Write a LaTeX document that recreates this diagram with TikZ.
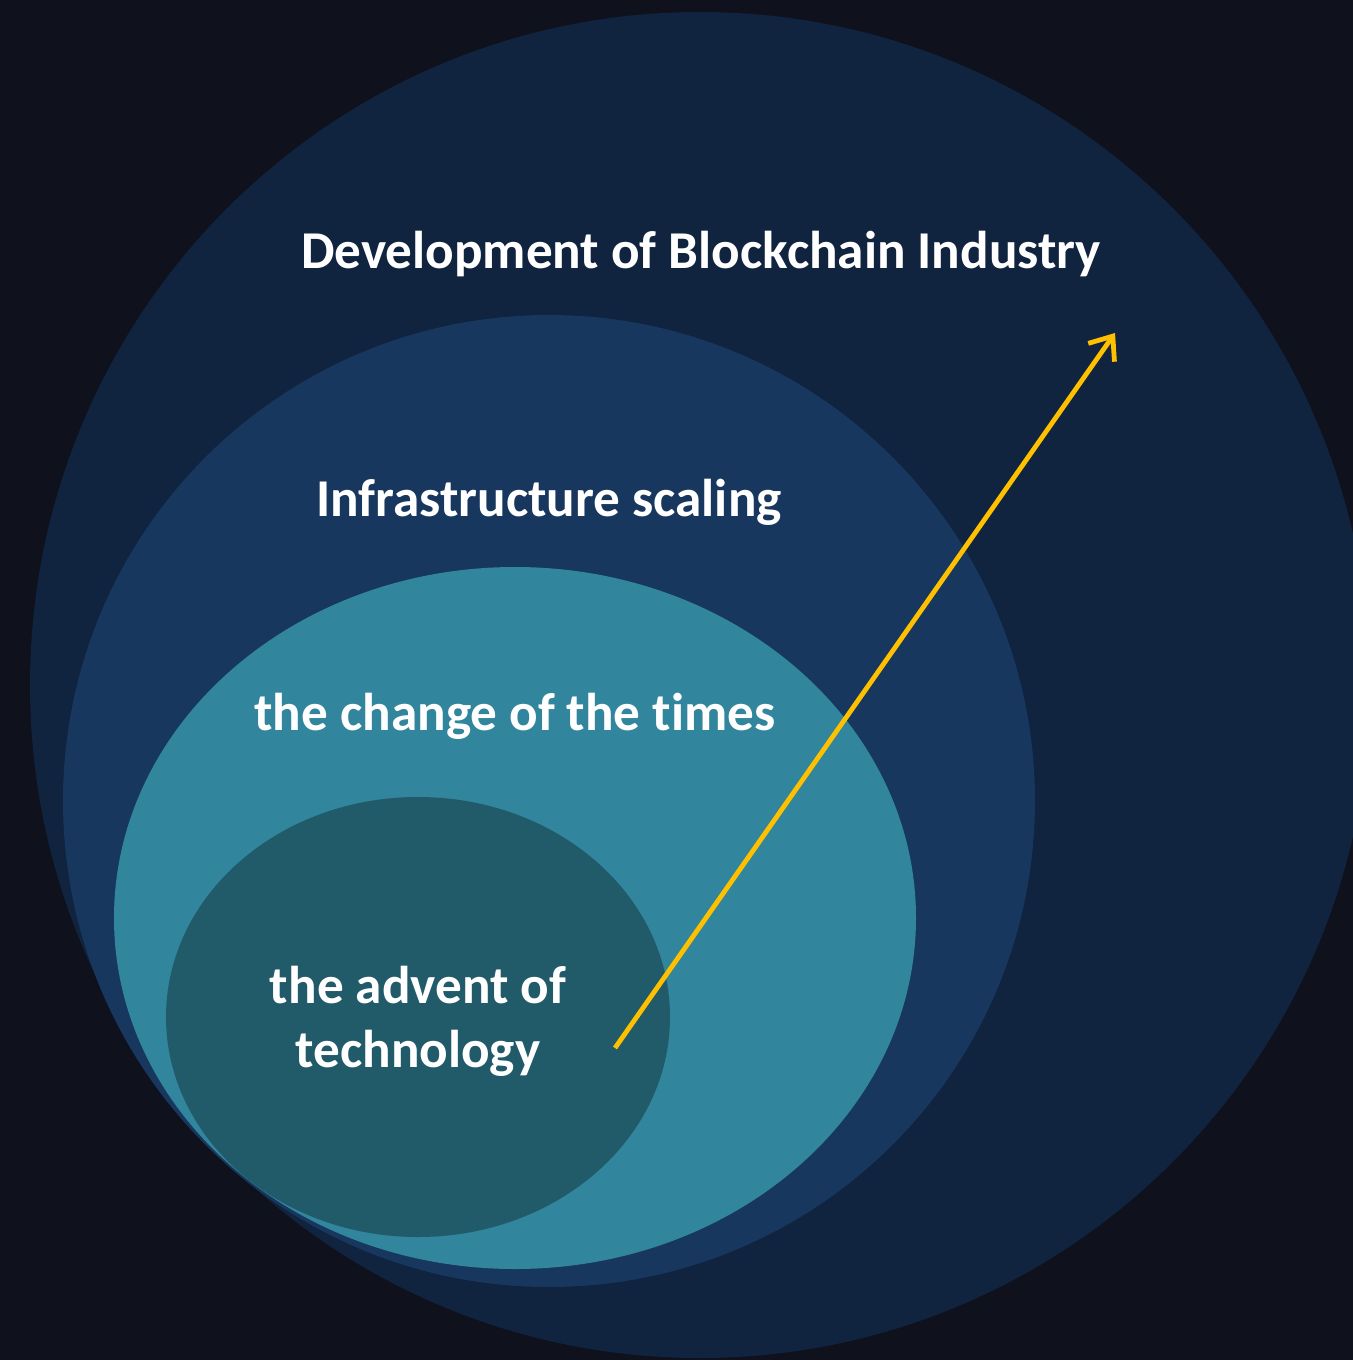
\documentclass[tikz,border=0pt]{standalone}
\usepackage{fontspec}
\setmainfont{Carlito}[Ligatures=NoCommon]
\usetikzlibrary{arrows.meta}
\definecolor{bgdark}{HTML}{0F111C}
\definecolor{outernavy}{HTML}{10233F}
\definecolor{midnavy}{HTML}{17375E}
\definecolor{tealmid}{HTML}{31859C}
\definecolor{tealdark}{HTML}{215A69}
\definecolor{arrowgold}{HTML}{FFC000}
\tikzset{
  label/.style={text=white, font=\fontsize{26.6}{32}\selectfont\bfseries, align=center},
}
\begin{document}
\begin{tikzpicture}[x=0.5pt, y=-0.5pt]
  \fill[bgdark] (0,0) rectangle (1353,1360); % Background
  \useasboundingbox (0,0) rectangle (1353,1360);

  % Nested ellipses (outer to inner)
  \fill[outernavy] (700,685) ellipse [x radius=670, y radius=673];
  \fill[midnavy] (549,801) ellipse [x radius=486, y radius=486];
  \fill[tealmid] (515,918) ellipse [x radius=401, y radius=351];
  \fill[tealdark] (418,1017) ellipse [x radius=252, y radius=220];

  % Labels
  \node[label] (industry) at (701,254) {Development of Blockchain Industry};
  \node[label] (scaling) at (549,502) {Infrastructure scaling};
  \node[label] (times) at (515,716) {the change of the times};
  \node[label] (advent) at (418,1021) {the advent of\\technology};

  % Growth arrow
  \coordinate (start) at (615,1048);
  \coordinate (tip) at (1115,333);
  \draw[arrowgold, line width=2.4pt, -{Straight Barb[length=10pt, width=16pt]}] (start) -- (tip);

\end{tikzpicture}
\end{document}
